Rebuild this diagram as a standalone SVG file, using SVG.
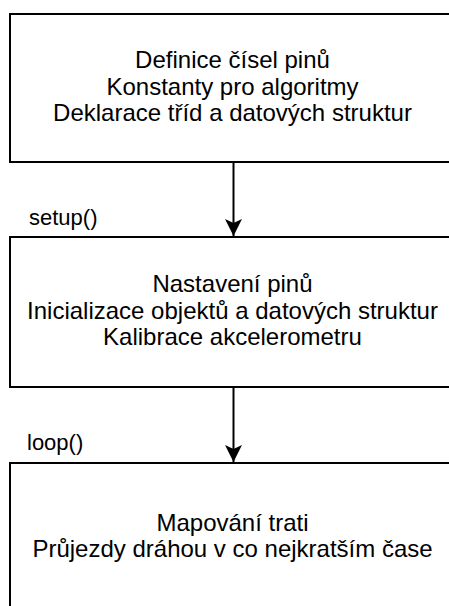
<svg xmlns="http://www.w3.org/2000/svg" width="449" height="606" viewBox="0 0 449 606">
  <style>
    .box { fill: #ffffff; stroke: #000000; stroke-width: 2; }
    .txt { font-family: "Liberation Sans", Arial, Helvetica, sans-serif; font-size: 24px; fill: #000000; text-anchor: middle; }
    .lbl { font-family: "Liberation Sans", Arial, Helvetica, sans-serif; font-size: 22px; fill: #000000; }
    .edge { stroke: #000000; stroke-width: 2; fill: none; }
  </style>
  <defs>
    <marker id="arrow" markerUnits="userSpaceOnUse" markerWidth="20" markerHeight="20" viewBox="0 0 20 20" refX="17" refY="10" orient="auto">
      <path d="M0,1.5 L17,10 L0,18.5 L4,10 Z" fill="#000000"/>
    </marker>
  </defs>
  <rect width="449" height="606" fill="#ffffff"/>

  <!-- declarations -->
  <g id="declarations">
    <rect class="box" x="10" y="14" width="450" height="148"/>
    <text class="txt" x="232.5" y="68">Definice čísel pinů</text>
    <text class="txt" x="232.5" y="94.5">Konstanty pro algoritmy</text>
    <text class="txt" x="232.5" y="121">Deklarace tříd a datových struktur</text>
  </g>

  <!-- setup() -->
  <g id="setup">
    <text class="lbl" x="29" y="225">setup()</text>
    <rect class="box" x="10" y="237" width="450" height="150"/>
    <text class="txt" x="232.5" y="292">Nastavení pinů</text>
    <text class="txt" x="232.5" y="318.5">Inicializace objektů a datových struktur</text>
    <text class="txt" x="232.5" y="345">Kalibrace akcelerometru</text>
  </g>

  <!-- loop() -->
  <g id="loop">
    <text class="lbl" x="27" y="450">loop()</text>
    <rect class="box" x="10" y="463" width="450" height="160"/>
    <text class="txt" x="232.5" y="530.5">Mapování trati</text>
    <text class="txt" x="232.5" y="557">Průjezdy dráhou v co nejkratším čase</text>
  </g>

  <!-- connectors -->
  <g id="connectors">
    <line class="edge" x1="233.5" y1="163" x2="233.5" y2="236" marker-end="url(#arrow)"/>
    <line class="edge" x1="233.5" y1="388" x2="233.5" y2="462" marker-end="url(#arrow)"/>
  </g>
</svg>
